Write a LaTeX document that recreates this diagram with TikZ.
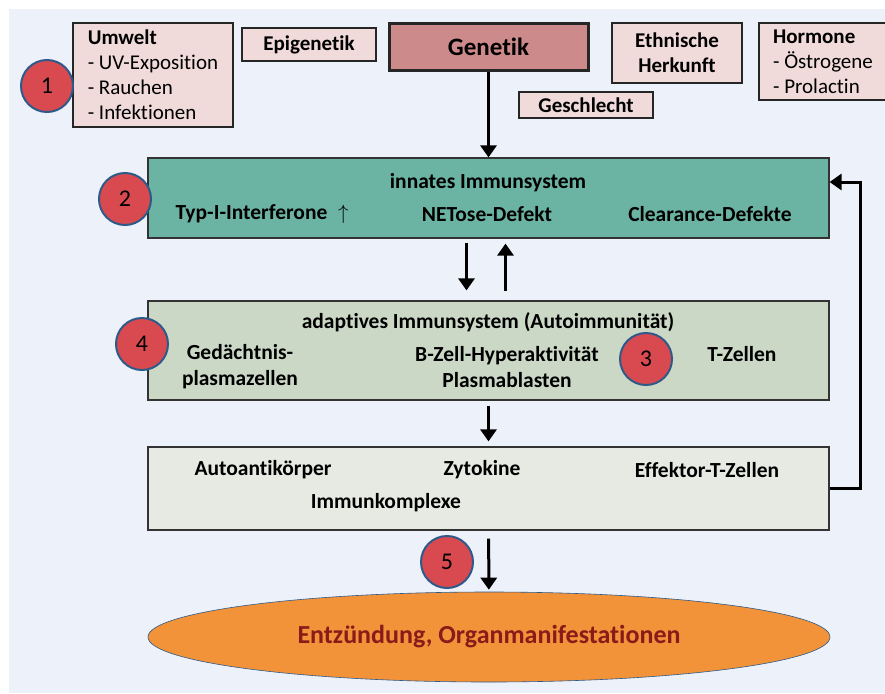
\documentclass[tikz,border=0pt]{standalone}
\usepackage{fontspec}
\setmainfont{Carlito}[Ligatures=CommonOff]
\usetikzlibrary{positioning, arrows.meta, shapes.geometric}
\definecolor{hinter}{RGB}{236, 241, 250}
\definecolor{rosa}{RGB}{240, 218, 218}
\definecolor{altrosa}{RGB}{205, 138, 138}
\definecolor{tuerkis}{RGB}{107, 179, 163}
\definecolor{salbei}{RGB}{204, 216, 198}
\definecolor{grauweiss}{RGB}{231, 234, 227}
\definecolor{apfelsine}{RGB}{242, 147, 57}
\definecolor{rotnum}{RGB}{217, 74, 80}
\definecolor{randblau}{RGB}{46, 90, 138}
\definecolor{dunkelrot}{RGB}{139, 26, 26}
\tikzset{
    faktor/.style={draw=black!85, fill=rosa, line width=1.2pt, inner sep=0pt, font=\fontsize{21}{25}\selectfont},
    ebene/.style={draw=black!80, line width=1.2pt, minimum width=681pt, inner sep=0pt},
    etikett/.style={inner sep=0pt, align=center, font=\bfseries\fontsize{21.5}{26}\selectfont},
    nummer/.style={circle, fill=rotnum, draw=randblau, line width=2pt, minimum size=52pt, inner sep=0pt, font=\fontsize{24}{24}\selectfont},
    pfeil/.style={-{Triangle[length=12pt, width=16pt]}, line width=3pt},
}
\begin{document}
\begin{tikzpicture}[x=1pt, y=-1pt]
    \useasboundingbox (0,0) rectangle (885,693);
    \fill[hinter] (9,9) rectangle (885,693);

    % Einflussfaktoren
    \node[faktor, minimum width=160pt, minimum height=104pt, align=left] (umwelt) at (153,75) {\textbf{Umwelt}\\- UV-Exposition\\- Rauchen\\- Infektionen};
    \node[faktor, minimum width=134pt, minimum height=33pt, font=\bfseries\fontsize{21}{25}\selectfont] (epigen) at (309,44.5) {Epigenetik};
    \node[faktor, fill=altrosa, line width=3pt, minimum width=199pt, minimum height=46pt, font=\bfseries\fontsize{25}{25}\selectfont] (genetik) at (488.5,47) {Genetik};
    \node[faktor, minimum width=130pt, minimum height=60pt, align=center, font=\bfseries\fontsize{21}{25}\selectfont] (ethnie) at (677,53) {Ethnische\\Herkunft};
    \node[faktor, minimum width=128pt, minimum height=77pt, align=left] (hormone) at (823,61.5) {\textbf{Hormone}\\- Östrogene\\- Prolactin};
    \node[faktor, minimum width=134pt, minimum height=26pt, font=\bfseries\fontsize{21}{25}\selectfont] (geschl) at (586,105) {Geschlecht};

    % Ebenen
    \node[ebene, fill=tuerkis, minimum height=80pt] (innat) at (488.5,198) {};
    \node[ebene, fill=salbei, minimum height=99pt] (adapt) at (488.5,350.5) {};
    \node[ebene, fill=grauweiss, minimum height=83pt] (effekt) at (488.5,488.5) {};
    \node[ellipse, draw=randblau, line width=0.6pt, fill=apfelsine, minimum width=682pt, minimum height=90pt, text=dunkelrot, font=\bfseries\fontsize{26}{26}\selectfont] (entz) at (489,637) {Entzündung, Organmanifestationen};

    \node[etikett] (innatT) at (488,183) {innates Immunsystem};
    \node[etikett] (typ) at (262,214) {Typ-I-Interferone\enspace$\uparrow$};
    \node[etikett] (netose) at (487,214) {NETose-Defekt};
    \node[etikett] (clear) at (710,214) {Clearance-Defekte};

    \node[etikett] (adaptT) at (488,322) {adaptives Immunsystem (Autoimmunität)};
    \node[etikett] (gedpl) at (240,367) {Gedächtnis-\\plasmazellen};
    \node[etikett] (bzell) at (507,367) {B-Zell-Hyperaktivität\\Plasmablasten};
    \node[etikett] (tzell) at (742,354) {T-Zellen};

    \node[etikett] (autoak) at (263,470) {Autoantikörper};
    \node[etikett] (zytok) at (482,470) {Zytokine};
    \node[etikett] (efft) at (707,470) {Effektor-T-Zellen};
    \node[etikett] (immk) at (386,503) {Immunkomplexe};

    % Pfeile
    \draw[pfeil] (genetik) -- (innat);
    \draw[pfeil, shorten <=4pt, shorten >=10pt] ([xshift=-22pt]innat.south) -- ([xshift=-22pt]adapt.north);
    \draw[pfeil, shorten <=9pt, shorten >=5pt] ([xshift=17pt]adapt.north) -- ([xshift=17pt]innat.south);
    \draw[pfeil, shorten <=5pt, shorten >=5pt] (adapt) -- (effekt);
    \draw[pfeil, shorten <=8pt, shorten >=2pt] (effekt) -- (entz);
    \draw[pfeil] (effekt.east) -- ++(31,0) |- ([yshift=16pt]innat.east);

    % Nummern
    \node[nummer] (n1) at (47,86) {1};
    \node[nummer] (n2) at (125,199) {2};
    \node[nummer] (n3) at (646,359) {3};
    \node[nummer] (n4) at (142,344) {4};
    \node[nummer] (n5) at (447,562) {5};
\end{tikzpicture}
\end{document}
